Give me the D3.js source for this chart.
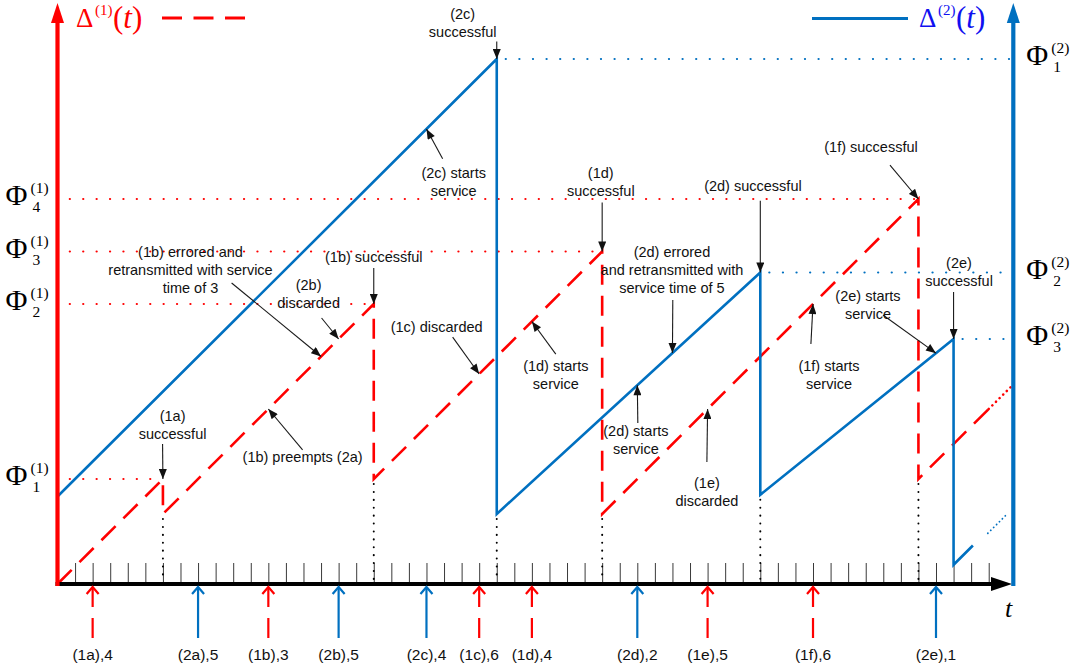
<!DOCTYPE html>
<html><head><meta charset="utf-8">
<script src="https://cdn.jsdelivr.net/npm/d3@7"></script>
<style>body{margin:0;background:#fff}svg{display:block}</style>
</head><body>
<svg id="chart" width="1079" height="672"></svg>
<script>
// ---- time grid ----
const tickTimes = d3.range(1, 54);
const tEnd = 54.4;

// ---- age of information, source 1 (red dashed): [t, age] vertices ----
const age1 = [[0,0],[6,6],[6,4],[18,16],[18,6],[31,19],[31,4],[49,22],[49,6],[53,10]];
const age1Tail = [[53,10],[54.4,11.4]];
// ---- age of information, source 2 (blue solid) ----
const age2 = [[0,5],[25,30],[25,4],[40,17.8],[40,5.1],[51,14],[51,1.1],[52.1,2.2]];
const age2Tail = [[52.95,2.9],[53.95,3.9]];

// ---- arrivals: time, service time, packet name ----
const arrivals1 = [2,12,24,27,37,43];
const service1  = [4,3,6,4,5,6];
const names1    = ["1a","1b","1c","1d","1e","1f"];
const arrivals2 = [8,16,21,33,50];
const service2  = [5,5,4,2,1];
const names2    = ["2a","2b","2c","2d","2e"];

// ---- successful deliveries (where the age drops) ----
const drops1 = [[6,4],[18,6],[31,4],[49,6]];
const drops2 = [[25,4],[40,5.1]];

// ---- peak ages Φ ----
const phi1      = [6,16,19,22];
const phi1Times = [6,18,31,49];
const phi2      = [30,17.8,14];
const phi2Times = [25,40,51];

// ---- event annotations: text anchor & arrow tail in (t, age), tip on a curve ----
const notes = [
  {lines:["(2c)","successful"], at:[23.06,32.57], from:[25,31.0], src:2, t:25},
  {lines:["(2c) starts","service"], at:[22.55,23.49], from:[21.92,24.3], src:2, t:21},
  {lines:["(1d)","successful"], at:[30.92,23.49], from:[31,21.8], src:1, t:31},
  {lines:["(2d) successful"], at:[39.58,22.74], from:[40,21.9], src:2, t:40},
  {lines:["(1f) successful"], at:[46.3,24.97], from:[47.38,23.94], src:1, t:49},
  {lines:["(1b) errored and","retransmitted with service","time of 3"], at:[7.57,18.97], from:[9.91,17.2], src:1, t:15},
  {lines:["(1b) successful"], at:[18.0,18.69], from:[18,18.06], src:1, t:18},
  {lines:["(2b)","discarded"], at:[14.29,17.09], from:[15.03,15.2], src:1, t:16},
  {lines:["(1c) discarded"], at:[21.58,14.69], from:[22.49,14.11], src:1, t:24},
  {lines:["(1d) starts","service"], at:[28.36,12.46], from:[28.36,13.14], src:1, t:27},
  {lines:["(2d) errored","and retransmitted with","service time of 5"], at:[34.97,18.97], from:[35.02,16.23], src:2, t:35},
  {lines:["(2e)","successful"], at:[51.31,18.34], from:[51,16.69], src:2, t:51},
  {lines:["(2e) starts","service"], at:[46.13,16.46], from:[46.98,15.37], src:2, t:50},
  {lines:["(1f) starts","service"], at:[43.91,12.46], from:[42.88,13.71], src:1, t:43},
  {lines:["(1a)","successful"], at:[6.55,9.6], from:[5.98,8.0], src:1, t:6},
  {lines:["(1b) preempts (2a)"], at:[13.95,7.26], from:[13.95,7.66], src:1, t:12},
  {lines:["(2d) starts","service"], at:[32.92,8.74], from:[33.03,9.2], src:2, t:33},
  {lines:["(1e)","discarded"], at:[36.96,5.77], from:[36.96,6.97], src:1, t:37}
];

const RED = "#ff0000", BLUE = "#0070c0", LEG_BLUE = "#1010f0";
const SANS = "'Liberation Sans', Arial, sans-serif";
const SERIF = "'Liberation Serif', 'Times New Roman', serif";

const svg = d3.select("#chart");
const xs = d3.scaleLinear().domain([0, tEnd]).range([57.5, 57.5 + tEnd * 17.57]);
const ys = d3.scaleLinear().domain([0, 33]).range([584, 584 - 33 * 17.5]);
const line = d3.line().x(d => xs(d[0])).y(d => ys(d[1]));

const defs = svg.append("defs");
defs.append("marker").attr("id", "head")
  .attr("viewBox", "0 0 10 8").attr("refX", 10).attr("refY", 4)
  .attr("markerWidth", 11).attr("markerHeight", 8)
  .attr("markerUnits", "userSpaceOnUse").attr("orient", "auto")
  .append("path").attr("d", "M0,0 L10,4 L0,8 Z").attr("fill", "#111");

// tick marks along the time axis
const axis = d3.axisBottom(xs).tickValues(tickTimes).tickSize(-21).tickFormat("");
const gAxis = svg.append("g").attr("transform", `translate(0,${ys(0)})`).call(axis);
gAxis.select(".domain").remove();
gAxis.selectAll(".tick line").attr("stroke", "#3a3a3a").attr("stroke-width", 1);

// peak-age guide lines
svg.append("g").selectAll("line").data(phi1).join("line")
  .attr("x1", xs(0.7)).attr("x2", (d, i) => xs(phi1Times[i]))
  .attr("y1", d => ys(d)).attr("y2", d => ys(d))
  .attr("stroke", RED).attr("stroke-width", 2.2).attr("stroke-linecap", "round")
  .attr("stroke-dasharray", "0.1,13.3");
svg.append("g").selectAll("line").data(phi2).join("line")
  .attr("x1", (d, i) => xs(phi2Times[i]) + 9).attr("x2", xs(tEnd))
  .attr("y1", d => ys(d)).attr("y2", d => ys(d))
  .attr("stroke", BLUE).attr("stroke-width", 2.2).attr("stroke-linecap", "round")
  .attr("stroke-dasharray", "0.1,13.5");

// delivery instants down to the axis
svg.append("g").selectAll("line").data(drops1.concat(drops2)).join("line")
  .attr("x1", d => xs(d[0])).attr("x2", d => xs(d[0]))
  .attr("y1", d => ys(d[1]) + 5).attr("y2", ys(0) - 2)
  .attr("stroke", "#000").attr("stroke-width", 2).attr("stroke-linecap", "round")
  .attr("stroke-dasharray", "0.1,7.8");

// age curves
svg.append("path").attr("d", line(age1)).attr("fill", "none")
  .attr("stroke", RED).attr("stroke-width", 2.6).attr("stroke-dasharray", "20,11");
svg.append("path").attr("d", line(age1Tail)).attr("fill", "none")
  .attr("stroke", RED).attr("stroke-width", 2.6).attr("stroke-linecap", "round")
  .attr("stroke-dasharray", "0.1,5");
svg.append("path").attr("d", line(age2)).attr("fill", "none")
  .attr("stroke", BLUE).attr("stroke-width", 2.6).attr("stroke-linejoin", "miter");
svg.append("path").attr("d", line(age2Tail)).attr("fill", "none")
  .attr("stroke", BLUE).attr("stroke-width", 1.8).attr("stroke-linecap", "round")
  .attr("stroke-dasharray", "0.1,4");

// axes
const x0 = xs(0), xR = xs(tEnd), yA = ys(0);
svg.append("line").attr("x1", x0 - 2).attr("x2", 995).attr("y1", yA).attr("y2", yA)
  .attr("stroke", "#000").attr("stroke-width", 4);
svg.append("path").attr("d", `M991,${yA - 7} L1012,${yA} L991,${yA + 7} Z`).attr("fill", "#000");
svg.append("line").attr("x1", x0).attr("x2", x0).attr("y1", yA + 2).attr("y2", 20)
  .attr("stroke", RED).attr("stroke-width", 4.2);
svg.append("path").attr("d", `M${x0 - 6.5},23 L${x0},3 L${x0 + 6.5},23 Z`).attr("fill", RED);
svg.append("line").attr("x1", xR).attr("x2", xR).attr("y1", yA + 2).attr("y2", 20)
  .attr("stroke", BLUE).attr("stroke-width", 4.2);
svg.append("path").attr("d", `M${xR - 6.5},23 L${xR},3 L${xR + 6.5},23 Z`).attr("fill", BLUE);
svg.append("text").attr("x", 1005).attr("y", 617).attr("font-family", SERIF)
  .attr("font-style", "italic").attr("font-size", 26).text("t");

// arrival arrows below the axis
const arr = arrivals1.map((t, i) => ({t, s: service1[i], n: names1[i], c: RED, dash: true}))
  .concat(arrivals2.map((t, i) => ({t, s: service2[i], n: names2[i], c: BLUE, dash: false})));
const gArr = svg.append("g");
arr.forEach(a => {
  const x = xs(a.t);
  gArr.append("line").attr("x1", x).attr("x2", x).attr("y1", 638).attr("y2", yA + 3)
    .attr("stroke", a.c).attr("stroke-width", 2.2)
    .attr("stroke-dasharray", a.dash ? "20,11,60" : null);
  gArr.append("path").attr("d", `M${x - 6},${yA + 10} L${x},${yA + 3} L${x + 6},${yA + 10}`)
    .attr("fill", "none").attr("stroke", a.c).attr("stroke-width", 2.2);
  gArr.append("text").attr("x", x).attr("y", 655).attr("dy", "0.35em")
    .attr("text-anchor", "middle").attr("font-family", SANS).attr("font-size", 15.5)
    .attr("fill", "#111").text(`(${a.n}),${a.s}`);
});

// curve value just before time t (left limit)
function ageAt(pts, t) {
  for (let i = 1; i < pts.length; i++) {
    const [t0, a0] = pts[i - 1], [t1, a1] = pts[i];
    if (t1 > t0 && t > t0 && t <= t1) return a0 + (a1 - a0) * (t - t0) / (t1 - t0);
  }
  return pts[pts.length - 1][1];
}

// annotations
const gN = svg.append("g");
notes.forEach(n => {
  const tipAge = ageAt(n.src === 1 ? age1 : age2, n.t);
  gN.append("line")
    .attr("x1", xs(n.from[0])).attr("y1", ys(n.from[1]))
    .attr("x2", xs(n.t)).attr("y2", ys(tipAge))
    .attr("stroke", "#1a1a1a").attr("stroke-width", 1.1).attr("marker-end", "url(#head)");
  const txt = gN.append("text").attr("text-anchor", "middle")
    .attr("font-family", SANS).attr("font-size", 14.5).attr("fill", "#111");
  n.lines.forEach((s, i) => {
    txt.append("tspan").attr("x", xs(n.at[0])).attr("y", ys(n.at[1]) + i * 17.8)
      .attr("dy", "0.35em").text(s);
  });
});

// Φ labels
function phiLabel(x, y, sup, sub) {
  const g = svg.append("g").attr("font-family", SERIF).attr("fill", "#000");
  g.append("text").attr("x", x).attr("y", y + 6).attr("font-size", 30).text("Φ");
  g.append("text").attr("x", x + 25).attr("y", y - 6).attr("font-size", 15.5).text(sup);
  g.append("text").attr("x", x + 27).attr("y", y + 13).attr("font-size", 15.5).text(sub);
}
phi1.forEach((p, i) => phiLabel(x0 - 52, ys(p), "(1)", String(i + 1)));
phi2.forEach((p, i) => phiLabel(xR + 13, ys(p), "(2)", String(i + 1)));

// legends
function legendText(x, color, sup) {
  const g = svg.append("g").attr("font-family", SERIF).attr("fill", color);
  g.append("text").attr("x", x).attr("y", 27).attr("font-size", 27).text("Δ");
  g.append("text").attr("x", x + 19).attr("y", 15).attr("font-size", 15).text(sup);
  const p = g.append("text").attr("x", x + 37).attr("y", 28).attr("font-size", 31);
  p.append("tspan").text("(");
  p.append("tspan").attr("font-style", "italic").text("t");
  p.append("tspan").text(")");
}
legendText(76, RED, "(1)");
svg.append("line").attr("x1", 162).attr("x2", 247).attr("y1", 18).attr("y2", 18)
  .attr("stroke", RED).attr("stroke-width", 2.8).attr("stroke-dasharray", "20,11.5");
svg.append("line").attr("x1", 812).attr("x2", 908).attr("y1", 18.5).attr("y2", 18.5)
  .attr("stroke", BLUE).attr("stroke-width", 2.8);
legendText(919, LEG_BLUE, "(2)");
</script>
</body></html>
